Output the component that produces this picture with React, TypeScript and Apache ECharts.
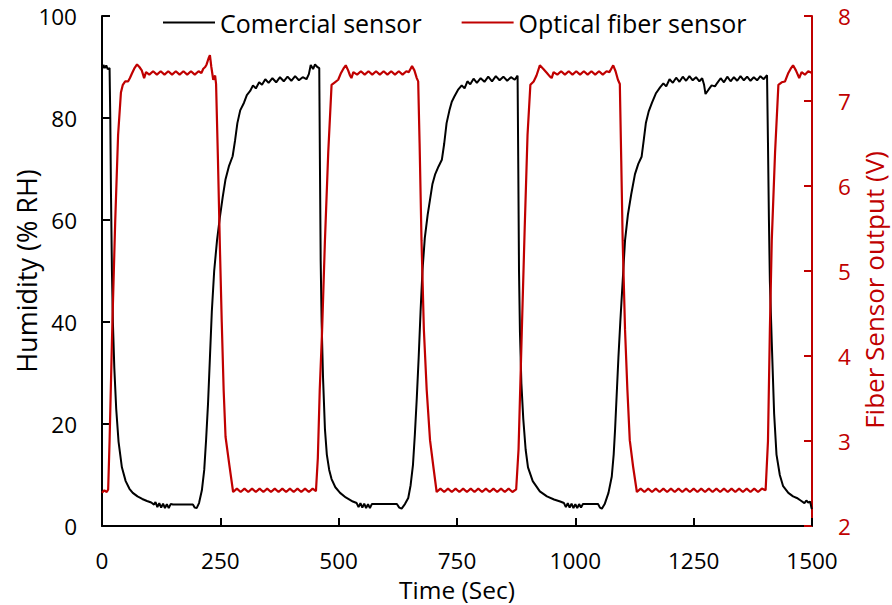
import React, { useEffect, useRef } from "react";
import * as echarts from "echarts";

// Commercial humidity sensor (% RH)
const sensorTime = [
  0, 3, 6, 9, 12, 16, 17.5, 19, 21, 23, 26, 30, 35, 42, 50, 58, 65, 75, 85, 95, 104, 110, 113, 117, 121, 125, 129, 133, 137, 141, 145, 150, 170, 192, 196, 200, 205, 211, 216, 220, 224, 228, 232, 237, 243, 249, 255, 261, 268, 276, 281, 286, 292, 300, 306, 313, 319, 325, 332, 338, 345, 352, 360, 368, 376, 384, 392, 400, 408, 416, 424, 432, 437, 441, 446, 450, 455, 459,
  460.5, 462, 464, 467, 471, 475, 480, 485, 493, 503, 515, 530, 538, 542, 546, 550, 554, 558, 562, 566, 570, 575, 600, 623, 628, 633, 640, 647, 652, 657, 661, 665, 669, 673, 677, 682, 688, 693, 698, 704, 711, 718, 723, 728, 734, 739, 745, 752, 760, 766, 772, 778, 785, 792, 800, 808, 816, 824, 832, 840, 848, 856, 864, 872, 878,
  879.5, 881, 883, 886, 890, 895, 900, 910, 925, 940, 955, 968, 976, 980, 984, 988, 992, 996, 1000, 1004, 1008, 1012, 1016, 1030, 1048, 1052, 1056, 1062, 1070, 1077, 1081, 1084, 1088, 1091, 1095, 1100, 1105, 1111, 1118, 1126, 1133, 1140, 1145, 1149, 1155, 1162, 1170, 1179, 1186, 1192, 1199, 1206, 1213, 1220, 1227, 1234, 1241, 1248, 1255, 1262, 1268, 1272, 1275, 1281, 1288, 1295, 1300, 1307, 1314, 1321, 1328, 1335, 1342, 1349, 1356, 1363, 1370, 1377, 1384, 1391, 1398, 1405,
  1407, 1409, 1411, 1415, 1420, 1425, 1432, 1439, 1450, 1460, 1468, 1476, 1484, 1488, 1492, 1496, 1499, 1500,
];
const sensorRH = [
  89.5, 90.4, 89.8, 90.3, 89.6, 89.8, 80, 65, 50, 40, 31, 23, 16.5, 11.5, 8.8, 7.3, 6.5, 5.8, 5.3, 4.9, 4.6, 4.2, 4.7, 3.7, 4.5, 3.6, 4.4, 3.5, 4.3, 3.5, 4.3, 4.2, 4.2, 4.2, 3.6, 3.5, 4.5, 7, 11, 17, 24, 33, 42, 50, 56, 60.5, 64.5, 68, 70.5, 72.5, 75.5, 79, 81.5, 83, 84.5, 85.3, 86.4, 85.8, 87, 86.5, 87.6, 86.9, 87.8, 87, 88, 87.2, 88.1, 87.3, 88.2, 87.4, 88, 87.6, 88.6, 90.4, 89.6, 90.5, 90, 89.8,
  70, 52, 40, 29, 19, 14, 11, 9.2, 7.6, 6.5, 5.6, 4.8, 4.5, 3.7, 4.5, 3.6, 4.4, 3.5, 4.3, 3.5, 4.3, 4.3, 4.3, 4.3, 3.6, 3.4, 4.3, 5.5, 8, 12, 18, 25, 33, 42, 50, 56.5, 61, 64, 67, 69, 70.5, 71.8, 75, 79, 81.5, 83.2, 84.3, 85.5, 86.4, 85.8, 87.2, 86.6, 87.7, 86.9, 87.8, 87.1, 88.1, 87.2, 88.2, 87.4, 88.1, 87.3, 88, 87.5, 88.3,
  70, 50, 38, 28, 21, 15, 11.5, 8.8, 6.8, 5.8, 5.2, 4.8, 4.5, 3.7, 4.5, 3.6, 4.4, 3.5, 4.3, 3.5, 4.3, 3.6, 4.3, 4.3, 4.3, 3.6, 3.4, 4.3, 6.5, 9.7, 14, 19, 27, 33, 40, 48, 56, 61, 65, 69, 71, 72.4, 76, 79, 81.3, 83, 84.8, 86, 86.8, 86.2, 87.6, 86.9, 87.9, 87.1, 88.1, 87.3, 88.2, 87.4, 88, 87.2, 87.8, 86.5, 84.7, 85.5, 86.4, 86.2, 86.9, 87.8, 87, 88.1, 87.2, 88, 87.3, 88.2, 87.4, 88.1, 87.3, 88, 87.4, 88.2, 87.6, 88.4,
  75, 60, 48, 36, 22, 14, 10, 7.8, 6.5, 5.8, 5.5, 5, 4.5, 5, 4.6, 4.8, 3.5, 3.3,
];

// Optical fiber sensor output (V)
const fiberTime = [
  0, 5, 10, 13, 16, 22, 28, 34, 40, 44, 49, 55, 59, 63, 68, 74, 79, 84, 89, 93,
  100, 108, 116, 124, 132, 140, 148, 156, 164, 172, 180, 188, 196, 204, 210,
  214, 218, 221, 225, 228, 231, 235, 239, 241, 245, 249, 253, 257, 261, 269, 277,
  285, 293, 301, 309, 317, 325, 333, 341, 349, 357, 365, 373, 381, 389, 397, 405, 413, 421, 429, 437, 445, 452,
  456, 460, 465, 471, 478, 485, 492, 499, 505, 510, 515, 520, 524, 527, 531,
  539, 547, 555, 563, 571, 579, 587, 595, 603, 611, 619, 627, 635, 643,
  648, 652, 655, 660, 665, 668, 671, 675, 680, 686, 693, 700, 707,
  715, 723, 731, 739, 747, 755, 763, 771, 779, 787, 795, 803, 811, 819, 827, 835, 843, 851, 859, 867, 875,
  880, 887, 893, 899, 905, 912, 918, 925, 932, 940, 946, 950, 954,
  962, 970, 978, 986, 994, 1002, 1010, 1018, 1026, 1034, 1042, 1050, 1058, 1066, 1072,
  1076, 1080, 1085, 1090, 1094, 1097, 1100, 1105, 1110, 1115, 1122, 1130,
  1138, 1146, 1154, 1162, 1170, 1178, 1186, 1194, 1202, 1210, 1218, 1226, 1234, 1242, 1250, 1258, 1266, 1274, 1282, 1290, 1298, 1306, 1314, 1322, 1330, 1338, 1346, 1354, 1362, 1370, 1378, 1386, 1394, 1402,
  1407, 1411, 1415, 1422, 1429, 1436, 1443, 1450, 1455, 1460, 1466, 1473, 1478, 1485, 1492, 1500,
];
const fiberVolt = [
  2.39, 2.42, 2.4, 2.43, 3.0, 4.4, 5.6, 6.6, 7.1, 7.19, 7.23, 7.23, 7.27, 7.32, 7.38, 7.43, 7.4, 7.36, 7.27, 7.34,
  7.31, 7.35, 7.31, 7.35, 7.31, 7.35, 7.31, 7.35, 7.31, 7.35, 7.31, 7.35, 7.31, 7.35, 7.33,
  7.38, 7.4, 7.43, 7.5, 7.54, 7.4, 7.25, 7.3, 7.2, 6.3, 5.3, 4.4, 3.6, 3.05, 2.72, 2.4,
  2.44, 2.4, 2.44, 2.4, 2.44, 2.4, 2.44, 2.4, 2.44, 2.4, 2.44, 2.4, 2.44, 2.4, 2.44, 2.4, 2.44, 2.4, 2.44, 2.4, 2.44, 2.41,
  2.8, 3.6, 4.3, 5.36, 6.4, 7.19, 7.22, 7.25, 7.33, 7.38, 7.42, 7.36, 7.3, 7.27, 7.34,
  7.31, 7.35, 7.31, 7.35, 7.31, 7.35, 7.31, 7.35, 7.31, 7.35, 7.31, 7.35, 7.31, 7.35,
  7.34, 7.38, 7.41, 7.36, 7.27, 7.23, 6.5, 5.36, 4.31, 3.6, 3.01, 2.7, 2.4,
  2.44, 2.4, 2.44, 2.4, 2.44, 2.4, 2.44, 2.4, 2.44, 2.4, 2.44, 2.4, 2.44, 2.4, 2.44, 2.4, 2.44, 2.4, 2.44, 2.4, 2.43,
  2.9, 4.31, 5.5, 6.6, 7.19, 7.23, 7.3, 7.42, 7.38, 7.33, 7.29, 7.27, 7.34,
  7.31, 7.35, 7.31, 7.35, 7.31, 7.35, 7.31, 7.35, 7.31, 7.35, 7.31, 7.35, 7.31, 7.35, 7.34,
  7.38, 7.42, 7.35, 7.25, 7.2, 6.3, 5.36, 4.31, 3.6, 3.01, 2.7, 2.4,
  2.44, 2.4, 2.44, 2.4, 2.44, 2.4, 2.44, 2.4, 2.44, 2.4, 2.44, 2.4, 2.44, 2.4, 2.44, 2.4, 2.44, 2.4, 2.44, 2.4, 2.44, 2.4, 2.44, 2.4, 2.44, 2.4, 2.44, 2.4, 2.44, 2.4, 2.44, 2.4, 2.44, 2.42,
  3.0, 4.31, 5.36, 6.4, 7.19, 7.22, 7.23, 7.33, 7.38, 7.42, 7.36, 7.27, 7.34, 7.31, 7.35, 7.33,
];

const seriesNames = ["Comercial sensor", "Optical fiber sensor"];
const rightAxisTitle = "Fiber Sensor output (V)";
const FONT = "Open Sans";
const RED = "#C00000";

export default function App() {
  const ref = useRef<HTMLDivElement>(null);
  useEffect(() => {
    if (!ref.current) return;
    const chart = echarts.init(ref.current, null, { renderer: "svg" });
    chart.setOption({
      animation: false,
      backgroundColor: "#fff",
      textStyle: { fontFamily: FONT },
      grid: {
        left: 102,
        right: 80,
        top: 16,
        bottom: 79,
        containLabel: false,
        outerBoundsMode: "none",
      },
      legend: {
        data: seriesNames,
        left: 158,
        top: 5,
        icon: "rect",
        itemWidth: 52,
        itemHeight: 2,
        itemGap: 40,
        textStyle: { fontSize: 25, color: "#000", fontFamily: FONT },
      },
      graphic: [
        {
          type: "text",
          x: 874,
          y: 290,
          rotation: Math.PI / 2,
          style: {
            text: rightAxisTitle,
            fill: RED,
            font: `26px "${FONT}"`,
            align: "center",
            verticalAlign: "middle",
          },
        },
      ],
      xAxis: {
        type: "value",
        min: 0,
        max: 1500,
        interval: 250,
        name: "Time (Sec)",
        nameLocation: "middle",
        nameGap: 51,
        nameMoveOverlap: false,
        nameTextStyle: { fontSize: 24.5, lineHeight: 24, color: "#000", fontFamily: FONT },
        axisLine: { show: true, lineStyle: { color: "#000", width: 2 } },
        axisTick: { show: true, inside: true, length: 8, lineStyle: { color: "#000", width: 2 } },
        axisLabel: {
          fontSize: 22.5,
          lineHeight: 22,
          color: "#000",
          margin: 23,
          fontFamily: FONT,
          formatter: (v: number) => String(v),
        },
        splitLine: { show: false },
      },
      yAxis: [
        {
          type: "value",
          min: 0,
          max: 100,
          interval: 20,
          position: "left",
          name: "Humidity (% RH)",
          nameLocation: "middle",
          nameRotate: 90,
          nameGap: 62,
          nameMoveOverlap: false,
          nameTextStyle: { fontSize: 27, lineHeight: 27, color: "#000", fontFamily: FONT },
          axisLine: { show: true, lineStyle: { color: "#000", width: 2 } },
          axisTick: { show: true, inside: true, length: 8, lineStyle: { color: "#000", width: 2 } },
          axisLabel: { fontSize: 22.5, color: "#000", margin: 25, fontFamily: FONT },
          splitLine: { show: false },
        },
        {
          type: "value",
          min: 2,
          max: 8,
          interval: 1,
          position: "right",
          axisLine: { show: true, lineStyle: { color: RED, width: 2 } },
          axisTick: { show: true, inside: true, length: 8, lineStyle: { color: RED, width: 2 } },
          axisLabel: { fontSize: 22.5, color: RED, margin: 26, fontFamily: FONT },
          splitLine: { show: false },
        },
      ],
      series: [
        {
          name: seriesNames[0],
          type: "line",
          yAxisIndex: 0,
          showSymbol: false,
          symbol: "none",
          color: "#000",
          lineStyle: { color: "#000", width: 2 },
          data: sensorTime.map((t, i) => [t, sensorRH[i]]),
        },
        {
          name: seriesNames[1],
          type: "line",
          yAxisIndex: 1,
          showSymbol: false,
          symbol: "none",
          color: RED,
          lineStyle: { color: RED, width: 2.2 },
          data: fiberTime.map((t, i) => [t, fiberVolt[i]]),
        },
      ],
    });
    return () => chart.dispose();
  }, []);
  return (
    <div
      ref={ref}
      style={{ position: "fixed", left: 0, top: 0, width: 892, height: 605, background: "#fff" }}
    />
  );
}
